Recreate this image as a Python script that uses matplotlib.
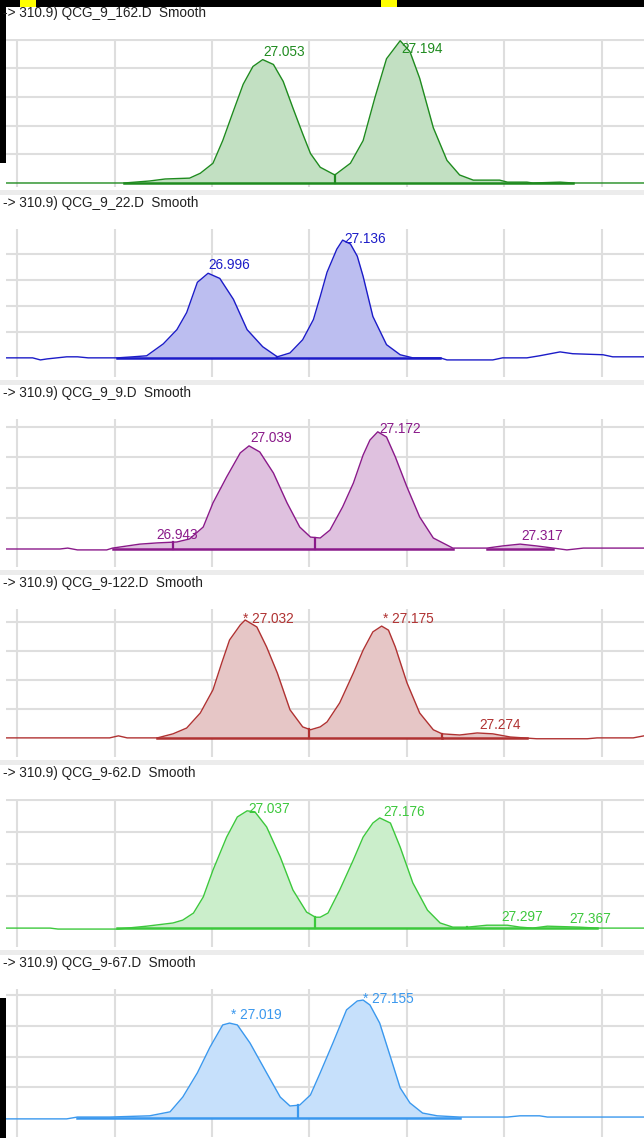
import numpy as np
import matplotlib
matplotlib.use("Agg")
import matplotlib.pyplot as plt
from matplotlib.patches import Rectangle

plt.rcParams['font.family'] = ['Liberation Sans', 'DejaVu Sans']

# sample names
names = ["QCG_9_162.D", "QCG_9_22.D", "QCG_9_9.D",
         "QCG_9-122.D", "QCG_9-62.D", "QCG_9-67.D"]

# retention time (min) / smoothed intensity (arbitrary units)
t1 = [26.789, 26.910, 26.936, 26.952, 26.977, 26.988, 27.001, 27.011, 27.022, 27.032,
      27.042, 27.052, 27.063, 27.073, 27.083, 27.093, 27.101, 27.111, 27.126, 27.142,
      27.155, 27.167, 27.179, 27.193, 27.203, 27.213, 27.227, 27.241, 27.254, 27.268,
      27.295, 27.303, 27.323, 27.329, 27.357, 27.370, 27.443]
v1 = [0, 0, 0.07, 0.14, 0.17, 0.34, 0.69, 1.48, 2.52, 3.45,
      4.07, 4.31, 4.14, 3.55, 2.62, 1.72, 1.03, 0.55, 0.28, 0.69,
      1.48, 2.97, 4.34, 4.97, 4.59, 3.66, 1.93, 0.79, 0.28, 0.10,
      0.10, 0.03, 0.03, 0, 0.03, 0, 0]

t2 = [26.789, 26.816, 26.824, 26.831, 26.851, 26.862, 26.873, 26.885, 26.903, 26.919,
      26.933, 26.950, 26.964, 26.974, 26.985, 26.996, 27.008, 27.022, 27.036, 27.052,
      27.067, 27.080, 27.093, 27.104, 27.111, 27.118, 27.128, 27.134, 27.142, 27.149,
      27.155, 27.165, 27.179, 27.193, 27.206, 27.234, 27.241, 27.288, 27.298, 27.323,
      27.336, 27.357, 27.370, 27.401, 27.411, 27.443]
v2 = [0, 0, -0.08, -0.04, 0.04, 0.04, 0, 0, 0, 0.04,
      0.08, 0.54, 1.09, 1.75, 2.92, 3.27, 3.07, 2.26, 1.09, 0.43,
      0.04, 0.19, 0.70, 1.48, 2.37, 3.31, 4.20, 4.55, 4.40, 3.93,
      3.15, 1.60, 0.51, 0.12, 0, 0, -0.08, -0.08, 0, 0,
      0.08, 0.23, 0.16, 0.12, 0.04, 0.04]

t3 = [26.789, 26.844, 26.852, 26.862, 26.892, 26.898, 26.926, 26.944, 26.964, 26.977,
      26.991, 27.001, 27.015, 27.029, 27.038, 27.049, 27.063, 27.077, 27.090, 27.101,
      27.111, 27.121, 27.134, 27.145, 27.155, 27.162, 27.170, 27.179, 27.188, 27.200,
      27.213, 27.227, 27.247, 27.282, 27.298, 27.316, 27.333, 27.350, 27.364, 27.381,
      27.443]
v3 = [0, 0, 0.03, -0.03, -0.03, 0.03, 0.16, 0.2, 0.23, 0.33,
      0.72, 1.51, 2.36, 3.15, 3.38, 3.18, 2.49, 1.51, 0.72, 0.39,
      0.36, 0.62, 1.38, 2.16, 3.08, 3.57, 3.84, 3.67, 3.02, 2.03,
      1.05, 0.36, 0.03, 0.03, 0.1, 0.16, 0.1, 0.03, -0.03, 0.03,
      0.03]

t4 = [26.789, 26.895, 26.904, 26.913, 26.944, 26.960, 26.974, 26.988, 27.001, 27.010,
      27.018, 27.029, 27.034, 27.046, 27.056, 27.067, 27.080, 27.093, 27.101, 27.111,
      27.118, 27.131, 27.145, 27.155, 27.165, 27.174, 27.181, 27.188, 27.200, 27.213,
      27.227, 27.236, 27.254, 27.272, 27.288, 27.306, 27.333, 27.385, 27.395, 27.432,
      27.443]
v4 = [0, 0, 0.07, 0, 0, 0.14, 0.34, 0.86, 1.66, 2.59,
      3.38, 3.9, 4.07, 3.83, 3.14, 2.24, 0.97, 0.38, 0.28, 0.38,
      0.55, 1.21, 2.24, 3.03, 3.66, 3.86, 3.72, 3.14, 1.9, 0.86,
      0.28, 0.14, 0.1, 0.17, 0.14, 0.03, -0.03, -0.03, 0, 0,
      0.07]

t5 = [26.789, 26.834, 26.842, 26.903, 26.913, 26.933, 26.960, 26.970, 26.981, 26.991,
      27.001, 27.015, 27.026, 27.036, 27.044, 27.056, 27.070, 27.083, 27.097, 27.106,
      27.111, 27.119, 27.131, 27.145, 27.155, 27.165, 27.172, 27.183, 27.193, 27.206,
      27.221, 27.234, 27.247, 27.262, 27.282, 27.303, 27.316, 27.329, 27.344, 27.377,
      27.395, 27.443]
v5 = [0, 0, -0.03, -0.03, 0, 0.06, 0.16, 0.25, 0.47, 0.97,
      1.81, 2.84, 3.47, 3.66, 3.63, 3.16, 2.22, 1.19, 0.5, 0.34,
      0.34, 0.47, 1.19, 2.13, 2.84, 3.28, 3.44, 3.28, 2.53, 1.41,
      0.56, 0.16, 0.03, 0.03, 0.09, 0.09, 0.03, 0, 0.06, 0.03,
      0, 0]

t6 = [26.789, 26.851, 26.862, 26.895, 26.936, 26.957, 26.970, 26.985, 26.998, 27.011,
      27.018, 27.026, 27.039, 27.056, 27.070, 27.080, 27.090, 27.101, 27.111, 27.124,
      27.138, 27.149, 27.155, 27.162, 27.172, 27.183, 27.193, 27.203, 27.216, 27.231,
      27.254, 27.303, 27.316, 27.336, 27.344, 27.443]
v6 = [-0.03, -0.03, 0.03, 0.03, 0.07, 0.2, 0.68, 1.47, 2.31, 3.03,
      3.09, 3.03, 2.44, 1.47, 0.68, 0.39, 0.42, 0.75, 1.47, 2.44,
      3.52, 3.81, 3.84, 3.68, 3.09, 1.99, 0.98, 0.49, 0.16, 0.07,
      0.03, 0.03, 0.07, 0.07, 0.03, 0.03]

# integration windows and peak split points
regions = [[(26.910, 27.370)], [(26.903, 27.234)],
           [(26.898, 27.247), (27.282, 27.350)],
           [(26.944, 27.236), (27.236, 27.323)],
           [(26.903, 27.395)], [(26.862, 27.254)]]
drops = [[27.126], [27.067], [26.960, 27.106], [27.099, 27.236],
         [27.106, 27.262, 27.329], [27.088]]

# peak labels
labels = [["27.053", "27.194"],
          ["26.996", "27.136"],
          ["26.943", "27.039", "27.172", "27.317"],
          ["* 27.032", "* 27.175", "27.274"],
          ["27.037", "27.176", "27.297", "27.367"],
          ["* 27.019", "* 27.155"]]

grid_t = [26.8, 26.9, 27.0, 27.1, 27.2, 27.3, 27.4]
ylims = [(-0.14, 5.03), (-0.74, 4.98), (-0.59, 4.26),
         (-0.66, 4.45), (-0.59, 4.03), (-0.62, 4.2)]
yticks = [[1, 2, 3, 4, 5], [1, 2, 3, 4], [1, 2, 3, 4],
          [1, 2, 3, 4], [1, 2, 3, 4], [1, 2, 3, 4]]

line_c = ["#1f8b1f", "#1c1cc8", "#8a1a8a", "#b03232", "#3cc83c", "#3a98ee"]
fill_c = ["#c2e0c2", "#bcbef0", "#dfc1df", "#e6c6c6", "#cbeecb", "#c6e0fb"]

times = [t1, t2, t3, t4, t5, t6]
vals = [v1, v2, v3, v4, v5, v6]

W, H = 644, 1138
fig = plt.figure(figsize=(W / 100, H / 100), dpi=100)


def px_rect(x0, y0, w, h, color):
    fig.add_artist(Rectangle((x0 / W, 1 - (y0 + h) / H), w / W, h / H,
                             transform=fig.transFigure, color=color, lw=0))


for i in range(6):
    top = 39 + 190 * i
    ax = fig.add_axes([6 / W, 1 - (top + 148) / H, (W - 6) / W, 148 / H])
    t = np.array(times[i])
    v = np.array(vals[i])
    ymin, ymax = ylims[i]
    ppu = 148 / (ymax - ymin)

    ax.set_xlim(26.7887, 27.4431)
    ax.set_ylim(ymin, ymax)
    ax.set_xticks(grid_t)
    ax.set_yticks(yticks[i])
    ax.grid(True, color="#dedede", lw=1.5)
    ax.set_axisbelow(True)
    ax.tick_params(length=0, labelleft=False, labelbottom=False)
    for s in ax.spines.values():
        s.set_visible(False)

    for a, b in regions[i]:
        m = (t >= a - 1e-6) & (t <= b + 1e-6)
        ax.fill_between(t, 0, v, where=m, color=fill_c[i], lw=0, zorder=2)
        ax.plot([a, b], [0, 0], color=line_c[i], lw=1.8, zorder=4)
    ax.plot(t, v, color=line_c[i], lw=1.0, zorder=3, solid_joinstyle="round")
    for d in drops[i]:
        ax.plot([d, d], [0, np.interp(d, t, v)], color=line_c[i], lw=1.6, zorder=4)

    for lab in labels[i]:
        pt = float(lab.replace("*", "").strip())
        h = np.interp(pt, t, v)
        y = min(h + 8 / ppu, ymax - 10 / ppu)
        ax.text(pt, y, lab, color=line_c[i], fontsize=9.8, ha="left", va="center", zorder=5)

    fig.text(3 / W, 1 - (top - 26) / H, "-> 310.9) " + names[i] + "  Smooth",
             fontsize=9.8, color="#222222", ha="left", va="center")

    if i > 0:
        px_rect(0, top - 39, W, 5, "#ececec")

# screenshot frame bits
px_rect(0, 0, W, 7, "#000000")
px_rect(20, 0, 16, 7, "#ffff00")
px_rect(381, 0, 16, 7, "#ffff00")
px_rect(0, 0, 6, 163, "#000000")
px_rect(0, 998, 6, 140, "#000000")

fig.savefig("out.png", dpi=100)
